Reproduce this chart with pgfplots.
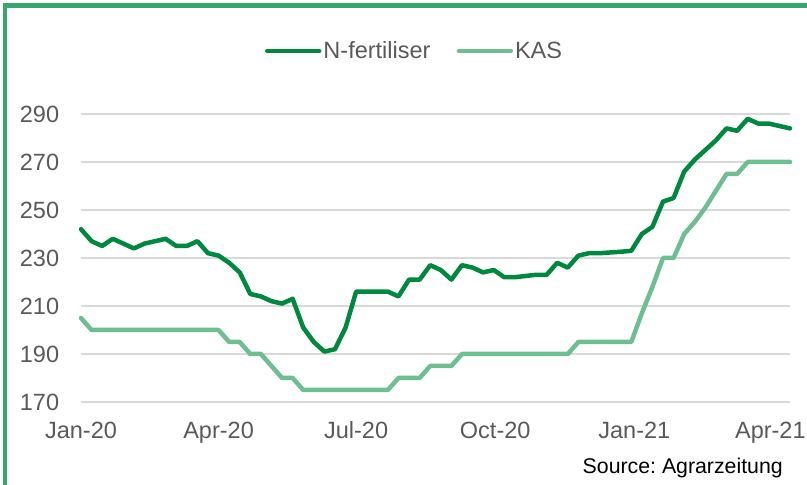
\documentclass[border=0pt]{standalone}
\usepackage{pgfplots}
\pgfplotsset{compat=1.18}
\usepackage{fontspec}
\setmainfont{Liberation Sans}
\frenchspacing
\definecolor{nfert}{RGB}{0,136,62}
\definecolor{kas}{RGB}{110,190,145}
\definecolor{framec}{RGB}{55,165,110}
\definecolor{lbl}{RGB}{89,89,89}
\definecolor{grd}{RGB}{217,217,217}
\pgfplotstableread{
x nf kas
0 242 205
7 237 200
14 235 200
21 238 200
28 236 200
35 234 200
42 236 200
49 237 200
56 238 200
63 235 200
70 235 200
77 237 200
84 232 200
91 231 200
98 228 195
105 224 195
112 215 190
119 214 190
126 212 185
133 211 180
140 213 180
147 201 175
154 195 175
161 191 175
168 192 175
175 201 175
182 216 175
189 216 175
196 216 175
203 216 175
210 214 180
217 221 180
224 221 180
231 227 185
238 225 185
245 221 185
252 227 190
259 226 190
266 224 190
273 225 190
280 222 190
287 222 190
294 222.5 190
301 223 190
308 223 190
315 228 190
322 226 190
329 231 195
336 232 195
343 232 195
350 232.3 195
357 232.6 195
364 233 195
371 240 207
378 243 218
385 253.5 230
392 255 230
399 266 240
406 271 245
413 275 251
420 279 258
427 284 265
434 283 265
441 288 270
448 286 270
455 286 270
462 285 270
469 284 270
}\datatable
\begin{document}
\begin{tikzpicture}
\path[use as bounding box] (0,0) rectangle (807pt,485pt);
\begin{scope}
\clip (0,0) rectangle (807pt,485pt);
\draw[framec, line width=4.8pt, line join=miter] (5pt,-20pt) -- (5pt,479.2pt) -- (830pt,479.2pt);
\end{scope}
\begin{axis}[
  at={(81pt,83pt)}, anchor=south west,
  width=709pt, height=288pt, scale only axis,
  xmin=0, xmax=469, ymin=170, ymax=290,
  ytick={170,190,...,290},
  xtick={0,91,182,274,366,456},
  xticklabels={Jan-20,Apr-20,Jul-20,Oct-20,Jan-21,Apr-21},
  axis line style={draw=none},
  tick style={draw=none},
  major tick length=0pt,
  ymajorgrids,
  grid style={grd, line width=1.2pt},
  ticklabel style={font=\fontsize{23.5}{28}\selectfont, text=lbl},
  /pgf/number format/assume math mode=true,
  yticklabel style={inner sep=0pt, xshift=-21.7pt},
  xticklabel style={inner sep=0pt, yshift=-19.7pt},
  clip=false,
  legend columns=2,
  legend style={draw=none, fill=none, at={(0.4704,1.21875)}, anchor=center,
    font=\fontsize{23.5}{28}\selectfont, text=lbl,
    nodes={inner sep=2pt},
    /tikz/every even column/.append style={column sep=24pt}},
  legend image code/.code={\draw[#1] (0pt,0pt) -- (52pt,0pt);},
]
\addplot[nfert, line width=4.5pt, line join=round, line cap=round] table[x=x, y=nf] {\datatable};
\addlegendentry{N-fertiliser}
\addplot[kas, line width=4.5pt, line join=round, line cap=round] table[x=x, y=kas] {\datatable};
\addlegendentry{KAS}
\end{axis}
\node[anchor=base east, font=\fontsize{21.3}{25}\selectfont, text=black, inner sep=0pt] at (783pt,11pt) {Source: Agrarzeitung};
\end{tikzpicture}
\end{document}
